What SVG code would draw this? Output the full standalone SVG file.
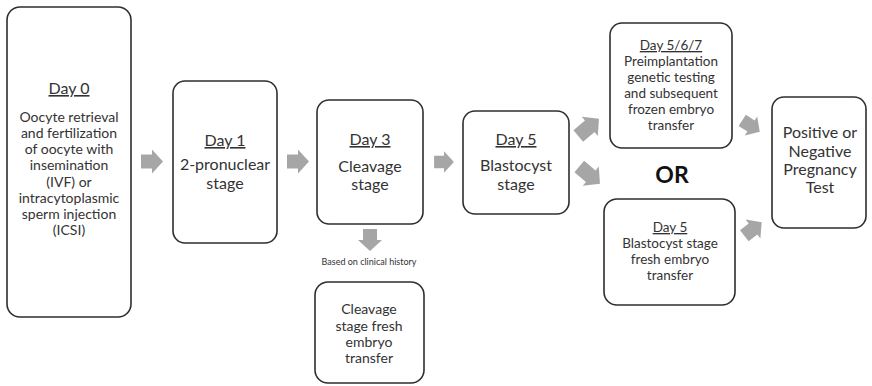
<svg xmlns="http://www.w3.org/2000/svg" xmlns:xlink="http://www.w3.org/1999/xlink" width="872" height="386" viewBox="0 0 872 386">
<style>
.box{fill:#fff;stroke:#2e2e2e;stroke-width:1.6}
text{font-family:Lato,"Noto Sans","DejaVu Sans",sans-serif;fill:#333;text-anchor:middle}
.t14{font-size:14px}
.t16{font-size:16px}
.t13{font-size:13.5px}
.u{text-decoration:underline}
.arr{fill:#a6a6a6}
</style>
<defs>
<path id="arr" class="arr" d="M-11,-7 L0,-7 L0,-12 L11,0 L0,12 L0,7 L-11,7 Z"/>
<path id="arr2" class="arr" d="M-14,-7.5 L1,-7.5 L1,-12.5 L13,0 L1,12.5 L1,7.5 L-14,7.5 Z"/>
</defs>
<rect width="872" height="386" fill="#fff"/>
<g id="connectors">
<use xlink:href="#arr" href="#arr" transform="translate(152,161.5)"/>
<use xlink:href="#arr" href="#arr" transform="translate(298,161.5)"/>
<use xlink:href="#arr" href="#arr" transform="translate(444,162) scale(0.9)"/>
<use xlink:href="#arr" href="#arr" transform="translate(370,240) rotate(90)"/>
<use xlink:href="#arr2" href="#arr2" transform="translate(589,127) rotate(-40)"/>
<use xlink:href="#arr2" href="#arr2" transform="translate(590,175.5) rotate(40)"/>
<use xlink:href="#arr" href="#arr" transform="translate(751,126) rotate(33) scale(0.95)"/>
<use xlink:href="#arr" href="#arr" transform="translate(753,229) rotate(-38)"/>
</g>
<g id="day0">
<rect class="box" x="7" y="7" width="124" height="310" rx="13"/>
<text class="t16 u" x="69" y="94">Day 0</text>
<text class="t14" x="69" y="122">Oocyte retrieval</text>
<text class="t14" x="69" y="138">and fertilization</text>
<text class="t14" x="69" y="154">of oocyte with</text>
<text class="t14" x="69" y="170">insemination</text>
<text class="t14" x="69" y="187">(IVF) or</text>
<text class="t14" x="69" y="203">intracytoplasmic</text>
<text class="t14" x="69" y="219">sperm injection</text>
<text class="t14" x="69" y="235">(ICSI)</text>
</g>
<g id="day1">
<rect class="box" x="173" y="81" width="104" height="162" rx="12"/>
<text class="t16 u" x="225" y="146">Day 1</text>
<text class="t16" x="225" y="170">2-pronuclear</text>
<text class="t16" x="225" y="189">stage</text>
</g>
<g id="day3">
<rect class="box" x="317" y="100" width="106" height="124" rx="12"/>
<text class="t16 u" x="370" y="145">Day 3</text>
<text class="t16" x="370" y="172">Cleavage</text>
<text class="t16" x="370" y="190">stage</text>
</g>
<g id="day5">
<rect class="box" x="463" y="111" width="106" height="103" rx="12"/>
<text class="t16 u" x="516" y="145">Day 5</text>
<text class="t16" x="516" y="171">Blastocyst</text>
<text class="t16" x="516" y="190">stage</text>
</g>
<g id="label-clinical">
<text x="369" y="265" style="font-size:9px">Based on clinical history</text>
</g>
<g id="cleavage-transfer">
<rect class="box" x="315" y="282" width="109" height="101" rx="13"/>
<text class="t14" x="369" y="314">Cleavage</text>
<text class="t14" x="369" y="331">stage fresh</text>
<text class="t14" x="369" y="347">embryo</text>
<text class="t14" x="369" y="363">transfer</text>
</g>
<g id="pgt">
<rect class="box" x="610" y="23" width="122" height="125" rx="12"/>
<text class="t13 u" x="671" y="50">Day 5/6/7</text>
<text class="t13" x="671" y="66">Preimplantation</text>
<text class="t13" x="671" y="82">genetic testing</text>
<text class="t13" x="671" y="98">and subsequent</text>
<text class="t13" x="671" y="114">frozen embryo</text>
<text class="t13" x="671" y="130">transfer</text>
</g>
<g id="or-label">
<text x="672" y="183" style="font-size:23px;font-weight:bold;fill:#111">OR</text>
</g>
<g id="blast-transfer">
<rect class="box" x="604" y="199" width="131" height="106" rx="13"/>
<text class="t13 u" x="670" y="232">Day 5</text>
<text class="t13" x="670" y="248">Blastocyst stage</text>
<text class="t13" x="670" y="264">fresh embryo</text>
<text class="t13" x="670" y="280">transfer</text>
</g>
<g id="test">
<rect class="box" x="772" y="97" width="94" height="131" rx="12"/>
<text class="t16" x="820" y="138">Positive or</text>
<text class="t16" x="820" y="157">Negative</text>
<text class="t16" x="820" y="175">Pregnancy</text>
<text class="t16" x="820" y="193">Test</text>
</g>
</svg>
